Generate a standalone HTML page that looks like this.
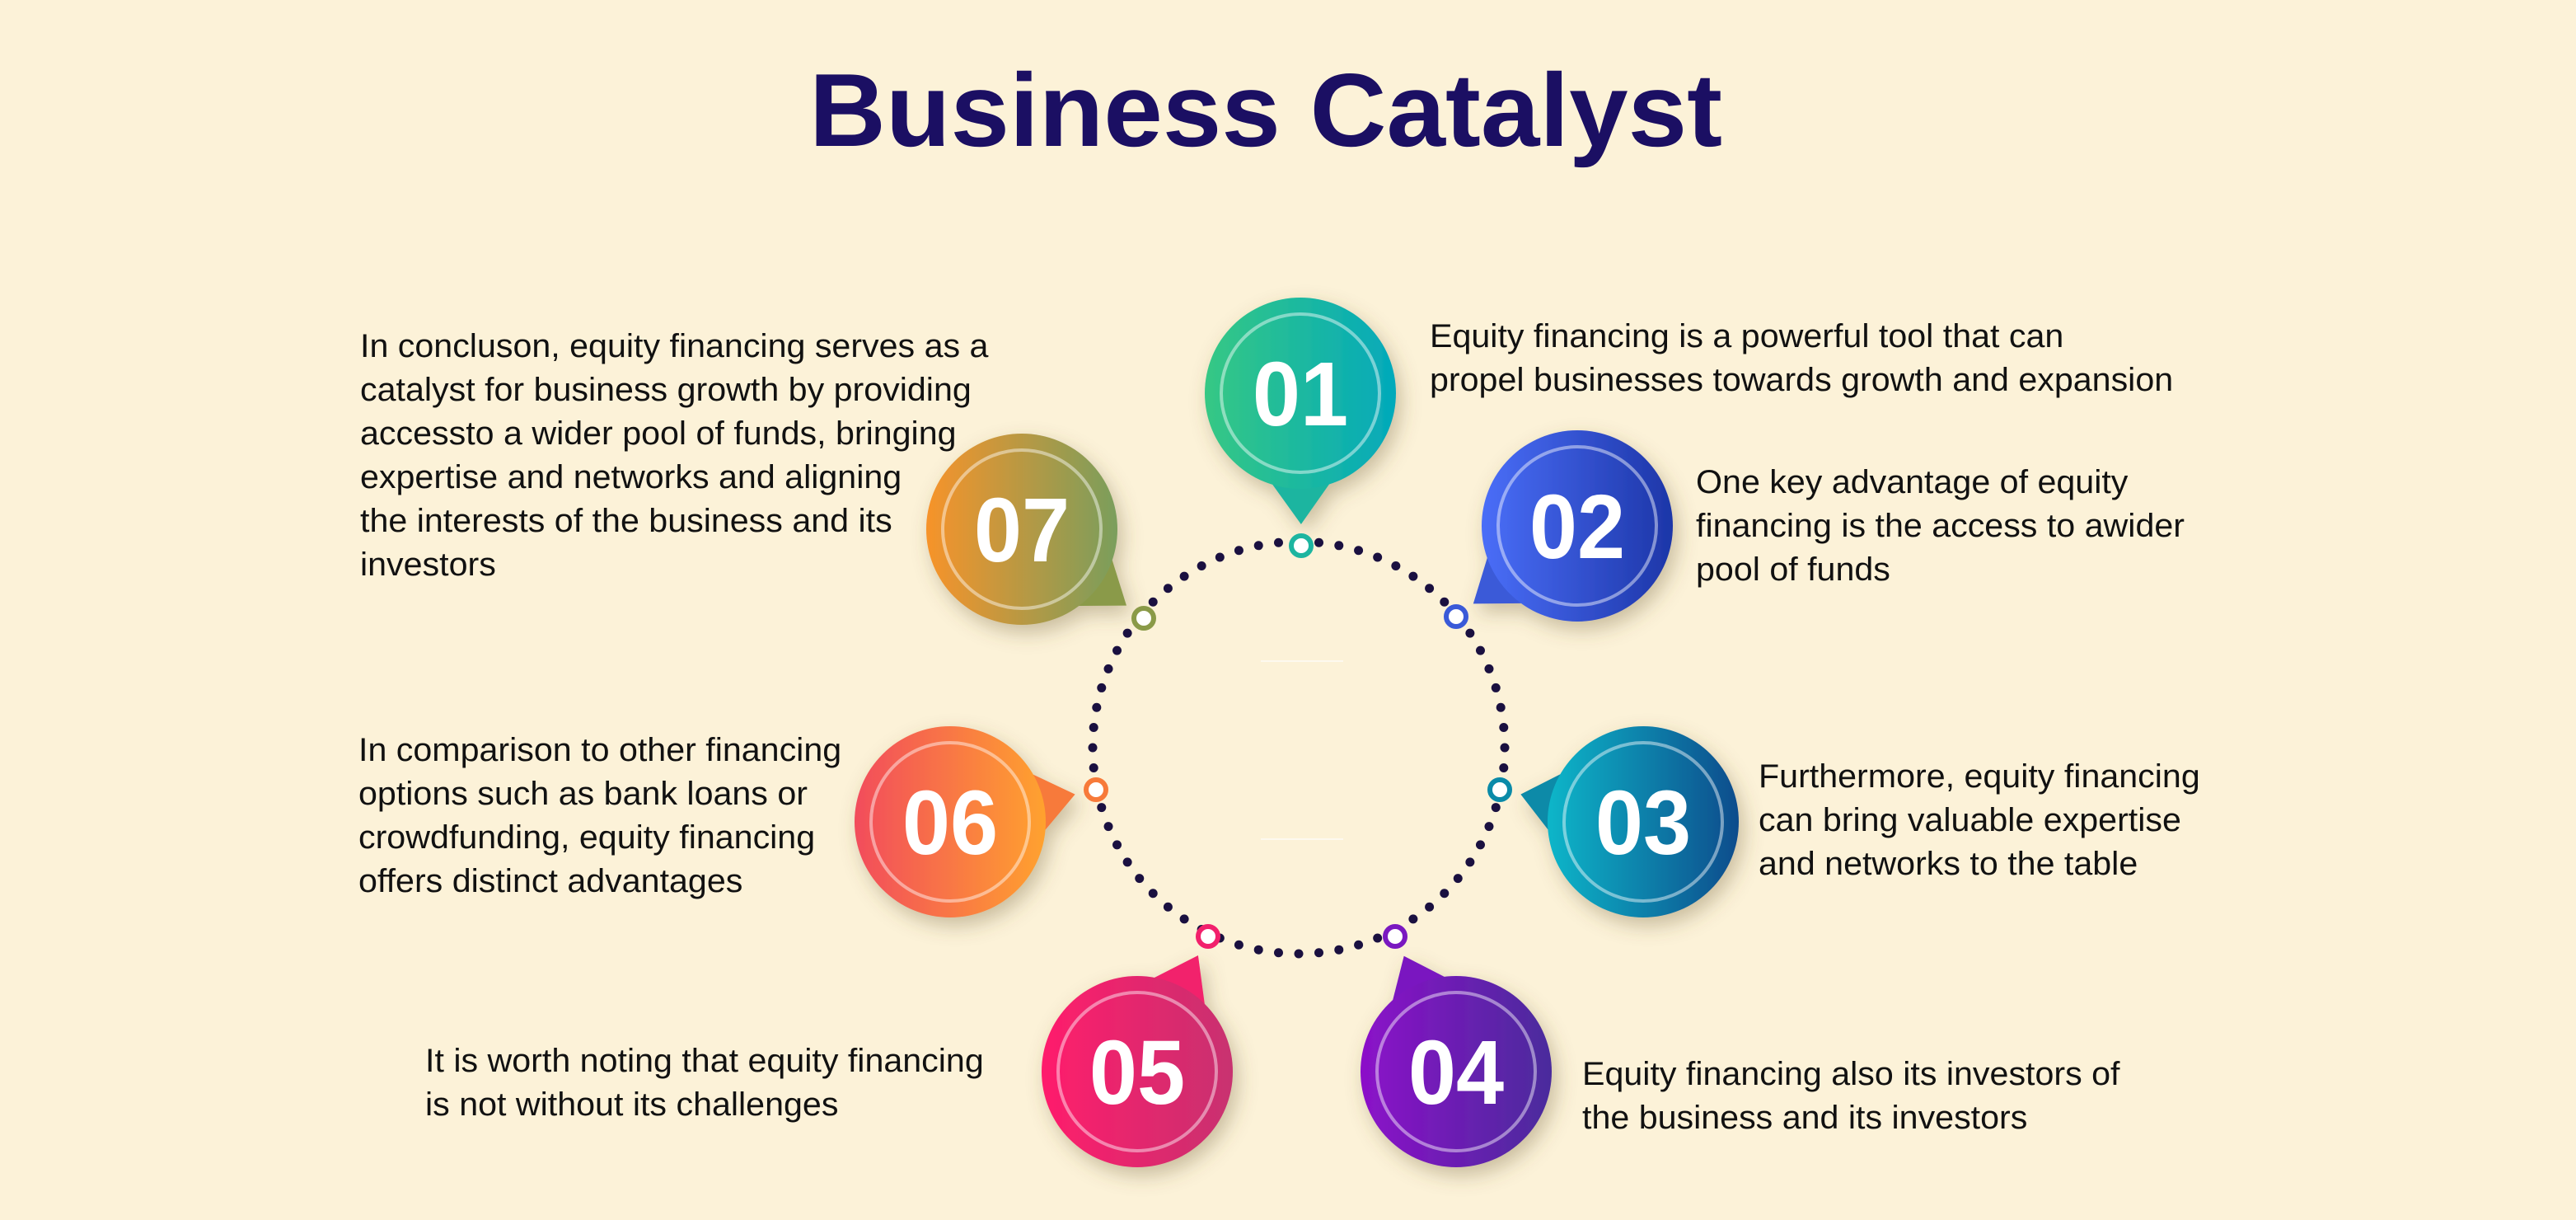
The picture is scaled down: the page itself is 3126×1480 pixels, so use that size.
<!DOCTYPE html>
<html><head><meta charset="utf-8"><style>
html,body{margin:0;padding:0;background:#fcf2d8;}
svg{display:block;}
.t{font-family:"Liberation Sans",sans-serif;font-size:40px;fill:#111;}
.n{font-family:"Liberation Sans",sans-serif;font-weight:bold;font-size:110px;fill:#fff;}
</style></head><body>
<svg width="3126" height="1480" viewBox="0 0 3126 1480" xmlns="http://www.w3.org/2000/svg">
<defs>
<filter id="sh" x="-40%" y="-40%" width="180%" height="180%"><feDropShadow dx="6" dy="10" stdDeviation="12" flood-color="#6b5a30" flood-opacity="0.35"/></filter>
<linearGradient id="g1" x1="0" x2="1"><stop offset="0" stop-color="#36c884"/><stop offset="1" stop-color="#03a9bb"/></linearGradient>
<linearGradient id="g2" x1="0" x2="1"><stop offset="0" stop-color="#4a6ef8"/><stop offset="1" stop-color="#1d36a8"/></linearGradient>
<linearGradient id="g3" x1="0" x2="1"><stop offset="0" stop-color="#07b6c9"/><stop offset="1" stop-color="#0a4c8c"/></linearGradient>
<linearGradient id="g4" x1="0" x2="1"><stop offset="0" stop-color="#8c10c9"/><stop offset="1" stop-color="#4a2c9c"/></linearGradient>
<linearGradient id="g5" x1="0" x2="1"><stop offset="0" stop-color="#ff1d6c"/><stop offset="1" stop-color="#c8316f"/></linearGradient>
<linearGradient id="g6" x1="0" x2="1"><stop offset="0" stop-color="#f24c5c"/><stop offset="1" stop-color="#ffa22e"/></linearGradient>
<linearGradient id="g7" x1="0" x2="1"><stop offset="0" stop-color="#f7932a"/><stop offset="1" stop-color="#7a9e5c"/></linearGradient>
</defs>
<rect width="3126" height="1480" fill="#fcf2d8"/>
<text x="1536" y="177" text-anchor="middle" textLength="1108" lengthAdjust="spacingAndGlyphs" font-family="Liberation Sans, sans-serif" font-weight="bold" font-size="126" fill="#1b0f63">Business Catalyst</text>
<g id="dots" fill="#1a1040"></g>
<line x1="1530" y1="802" x2="1630" y2="802" stroke="#fff" stroke-width="2" opacity="0.6"/>
<line x1="1530" y1="1018" x2="1630" y2="1018" stroke="#fff" stroke-width="2" opacity="0.6"/>
<g id="bubbles"></g>
<g class="t">
<g transform="translate(1735,421) scale(1.03,1)"><text>Equity financing is a powerful tool that can</text><text y="53">propel businesses towards growth and expansion</text></g>
<g transform="translate(2058,598) scale(1.03,1)"><text>One key advantage of equity</text><text y="53">financing is the access to awider</text><text y="106">pool of funds</text></g>
<g transform="translate(2134,955) scale(1.03,1)"><text>Furthermore, equity financing</text><text y="53">can bring valuable expertise</text><text y="106">and networks to the table</text></g>
<g transform="translate(1920,1316) scale(1.03,1)"><text>Equity financing also its investors of</text><text y="53">the business and its investors</text></g>
<g transform="translate(516,1300) scale(1.03,1)"><text>It is worth noting that equity financing</text><text y="53">is not without its challenges</text></g>
<g transform="translate(435,923) scale(1.03,1)"><text>In comparison to other financing</text><text y="53">options such as bank loans or</text><text y="106">crowdfunding, equity financing</text><text y="159">offers distinct advantages</text></g>
<g transform="translate(437,433) scale(1.03,1)"><text>In concluson, equity financing serves as a</text><text y="53">catalyst for business growth by providing</text><text y="106">accessto a wider pool of funds, bringing</text><text y="159">expertise and networks and aligning</text><text y="212">the interests of the business and its</text><text y="265">investors</text></g>
</g>
</svg>
<script>
var NS="http://www.w3.org/2000/svg";
function el(t,a,p){var e=document.createElementNS(NS,t);for(var k in a)e.setAttribute(k,a[k]);p.appendChild(e);return e;}
var cx=1576,cy=907,R=250;
var dots=document.getElementById('dots');
for(var i=0;i<64;i++){var a=i/64*2*Math.PI;el('circle',{cx:cx+R*Math.cos(a),cy:cy+R*Math.sin(a),r:5.5},dots);}
var B=[
["01",1578,477,1579,662,"#1cb5a0"],
["02",1914,638,1767,748,"#3a5ad8"],
["03",1994,997,1820,958,"#0a8aa8"],
["04",1767,1300,1693,1136,"#7a18c0"],
["05",1380,1300,1466,1136,"#f2206c"],
["06",1153,997,1330,958,"#f77a3a"],
["07",1240,642,1388,750,"#8a9a48"]];
var g=document.getElementById('bubbles');
B.forEach(function(b,i){
 var x=b[1],y=b[2],mx=b[3],my=b[4],r=116;
 var dx=mx-x,dy=my-y,d=Math.hypot(dx,dy),ux=dx/d,uy=dy/d;
 var ang=Math.atan2(uy,ux),s=0.3;
 var p1=[x+r*Math.cos(ang-s),y+r*Math.sin(ang-s)],p2=[x+r*Math.cos(ang+s),y+r*Math.sin(ang+s)];
 var ap=[mx-ux*26,my-uy*26];
 var gg=el('g',{filter:'url(#sh)'},g);
 el('polygon',{points:p1.join(',')+' '+ap.join(',')+' '+p2.join(',')+' '+x+','+y,fill:b[5]},gg);
 el('circle',{cx:x,cy:y,r:r,fill:'url(#g'+(i+1)+')'},gg);
 el('circle',{cx:x,cy:y,r:96,fill:'none',stroke:'#fff','stroke-opacity':0.45,'stroke-width':4},g);
 var t=el('text',{x:0,y:0,'text-anchor':'middle','class':'n',transform:'translate('+x+','+(y+39)+') scale(0.95,1)'},g);
 t.textContent=b[0];
 el('circle',{cx:mx,cy:my,r:12,fill:'#fff',stroke:b[5],'stroke-width':6},g);
});
</script>
</body></html>
